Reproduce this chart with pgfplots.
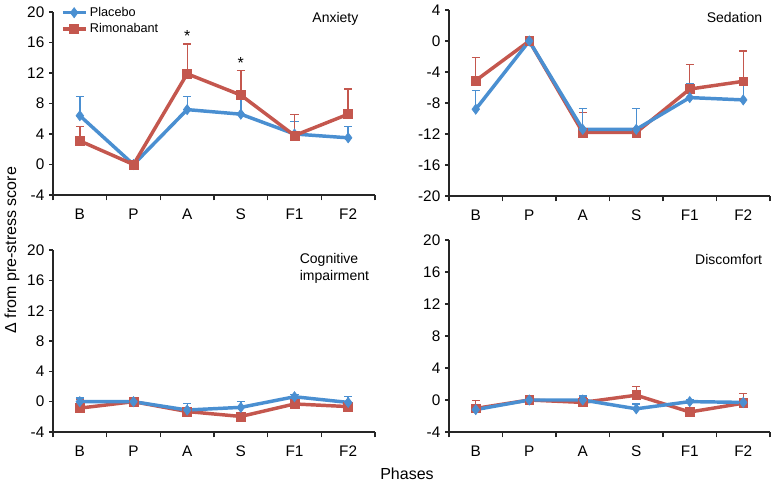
\documentclass[border=0pt]{standalone}
\usepackage{fontspec}
\setmainfont{Liberation Sans}
\usepackage{pgfplots}
\pgfplotsset{compat=1.18}
\definecolor{plac}{HTML}{4A8FD1}
\definecolor{rimo}{HTML}{C4574E}
\tikzset{ttl/.style={font=\fontsize{10.5}{12.5}\selectfont}}
\pgfplotsset{
  panel/.style={
    scale only axis,
    axis lines=left,
    axis line style={-, line width=0.9pt, black!85},
    xmin=0, xmax=6,
    xtick={0.5,1.5,...,5.5},
    xticklabels={B,P,A,S,F1,F2},
    major x tick style={draw=none},
    minor xtick={0,1,...,6},
    minor tick length=4pt,
    major tick length=3pt,
    tick align=outside,
    tick style={black!85, line width=0.8pt},
    ytick distance=4,
    tick label style={font=\fontsize{11.5}{13}\selectfont},
    xticklabel style={yshift=-4pt},
    /pgf/number format/assume math mode=true,
    clip=false,
  },
  ser/.style={line width=2.6pt, mark options={solid, line width=0.5pt},
    error bars/y dir=plus, error bars/y explicit, error bars/error mark=-,
    error bars/error mark options={rotate=90, line width=1pt, mark size=3pt},
    error bars/error bar style={line width=1pt}},
  pl/.style={ser, color=plac, mark=diamond*, mark size=3.8pt},
  rm/.style={ser, color=rimo, mark=square*, mark size=3.3pt},
}
\begin{document}
\begin{tikzpicture}
\useasboundingbox (0,0) rectangle (579pt,-362.25pt);

% Anxiety
\begin{axis}[panel, at={(39.75pt,-146.25pt)}, anchor=south west,
  width=241.5pt, height=137.25pt, ymin=-4, ymax=20,
  legend style={at={(0.02,1.05)}, anchor=north west, draw=none, fill=none,
    font=\fontsize{9.5}{11}\selectfont, row sep=0pt, inner sep=1pt},
  legend cell align=left]
\addplot[pl] coordinates {(0.5,6.4) +- (0,2.5) (1.5,0) +- (0,0) (2.5,7.2) +- (0,1.7) (3.5,6.6) +- (0,2.2) (4.5,4.0) +- (0,1.6) (5.5,3.5) +- (0,1.5)};
\addlegendentry{Placebo}
\addplot[rm] coordinates {(0.5,3.1) +- (0,1.9) (1.5,0) +- (0,0) (2.5,11.9) +- (0,3.9) (3.5,9.1) +- (0,3.2) (4.5,3.8) +- (0,2.8) (5.5,6.6) +- (0,3.3)};
\addlegendentry{Rimonabant}
\node[anchor=east, ttl] at (rel axis cs:0.963,0.965) {Anxiety};
\node[font=\fontsize{12}{13}\selectfont] at (axis cs:2.5,16.9) {*};
\node[font=\fontsize{12}{13}\selectfont] at (axis cs:3.5,13.3) {*};
\end{axis}

% Sedation
\begin{axis}[panel, at={(336.75pt,-147pt)}, anchor=south west,
  width=240.75pt, height=139.5pt, ymin=-20, ymax=4]
\addplot[rm] coordinates {(0.5,-5.1) +- (0,3.0) (1.5,0) +- (0,0) (2.5,-11.8) +- (0,2.6) (3.5,-11.8) +- (0,3.1) (4.5,-6.2) +- (0,3.2) (5.5,-5.2) +- (0,3.9)};
\addplot[pl] coordinates {(0.5,-8.8) +- (0,2.4) (1.5,0) +- (0,0) (2.5,-11.4) +- (0,2.7) (3.5,-11.4) +- (0,2.7) (4.5,-7.3) +- (0,1.8) (5.5,-7.6) +- (0,2.2)};
\node[anchor=east, ttl] at (rel axis cs:0.99,0.962) {Sedation};
\end{axis}

% Cognitive impairment
\begin{axis}[panel, at={(39.75pt,-324pt)}, anchor=south west,
  width=241.5pt, height=136.5pt, ymin=-4, ymax=20]
\addplot[rm] coordinates {(0.5,-0.85) +- (0,1.2) (1.5,0) +- (0,0) (2.5,-1.3) +- (0,0.3) (3.5,-1.95) +- (0,0.3) (4.5,-0.3) +- (0,0.4) (5.5,-0.65) +- (0,0.3)};
\addplot[pl] coordinates {(0.5,0) +- (0,0.5) (1.5,0) +- (0,0) (2.5,-1.1) +- (0,0.9) (3.5,-0.75) +- (0,0.8) (4.5,0.65) +- (0,0.3) (5.5,-0.1) +- (0,0.75)};
\node[anchor=west, align=left, ttl] at (rel axis cs:0.752,0.90) {Cognitive\\impairment};
\end{axis}

% Discomfort
\begin{axis}[panel, at={(336.75pt,-324pt)}, anchor=south west,
  width=240.75pt, height=144pt, ymin=-4, ymax=20]
\addplot[rm] coordinates {(0.5,-1.05) +- (0,1.0) (1.5,0) +- (0,0) (2.5,-0.3) +- (0,0.6) (3.5,0.6) +- (0,1.1) (4.5,-1.5) +- (0,0.3) (5.5,-0.4) +- (0,1.2)};
\addplot[pl] coordinates {(0.5,-1.2) +- (0,0.3) (1.5,0) +- (0,0) (2.5,0) +- (0,0.5) (3.5,-1.1) +- (0,0.6) (4.5,-0.2) +- (0,0.3) (5.5,-0.3) +- (0,0.3)};
\node[anchor=east, ttl] at (rel axis cs:0.99,0.90) {Discomfort};
\end{axis}

\node[rotate=90, font=\fontsize{12}{13}\selectfont] at (9pt,-187.5pt) {Δ from pre-stress score};
\node[font=\fontsize{12}{13}\selectfont] at (305.25pt,-355.5pt) {Phases};
\end{tikzpicture}
\end{document}
